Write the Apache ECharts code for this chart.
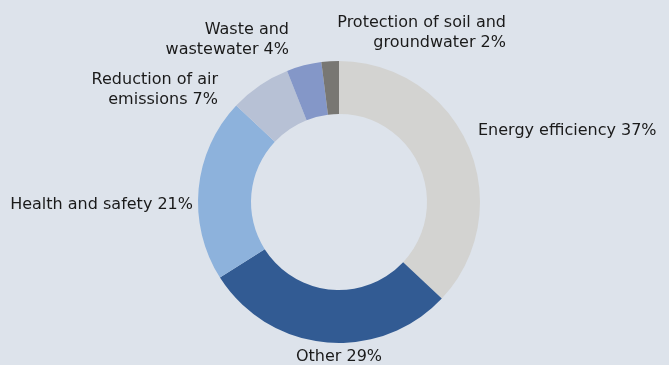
<!DOCTYPE html>
<html>
<head>
<meta charset="utf-8">
<script src="https://cdn.jsdelivr.net/npm/echarts@6/dist/echarts.min.js"></script>
<style>
  html, body { margin: 0; padding: 0; background: #dde3eb; }
  #chart { width: 669px; height: 365px; }
</style>
</head>
<body>
<div id="chart"></div>
<script>
// Environmental investment shares by purpose (%)
const categories = [
  'Energy efficiency',
  'Other',
  'Health and safety',
  'Reduction of air\nemissions',
  'Waste and\nwastewater',
  'Protection of soil and\ngroundwater'
];
const shares = [37, 29, 21, 7, 4, 2];
const colors = ['#d3d3d1', '#325b93', '#8db2dc', '#b7c1d5', '#8497c8', '#787773'];

// Where each slice's label sits around the ring
const labelSpots = [
  { x: 478, y: 131, align: 'left' },
  { x: 339, y: 357, align: 'center' },
  { x: 193, y: 205, align: 'right' },
  { x: 218, y: 90, align: 'right' },
  { x: 289, y: 40, align: 'right' },
  { x: 506, y: 33, align: 'right' }
];

const chart = echarts.init(document.getElementById('chart'));
chart.setOption({
  backgroundColor: '#dde3eb',
  animation: false,
  series: [{
    type: 'pie',
    center: [339, 202],
    radius: [88, 141],
    startAngle: 90,
    clockwise: true,
    avoidLabelOverlap: false,
    data: categories.map((name, i) => ({
      name: name,
      value: shares[i],
      itemStyle: { color: colors[i] }
    })),
    label: {
      show: true,
      position: 'outside',
      formatter: p => p.name + ' ' + p.value + '%',
      fontFamily: 'DejaVu Sans',
      fontSize: 16,
      lineHeight: 20.5,
      color: '#1a1a1a'
    },
    labelLine: { show: false },
    labelLayout: p => {
      const s = labelSpots[p.dataIndex];
      return { x: s.x, y: s.y, align: s.align, verticalAlign: 'middle', hideOverlap: false };
    },
    emphasis: { disabled: true }
  }]
});
</script>
</body>
</html>
